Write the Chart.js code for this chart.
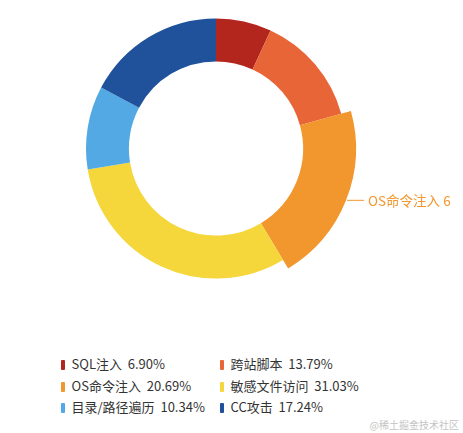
<!DOCTYPE html>
<html>
<head>
<meta charset="utf-8">
<script src="https://cdn.jsdelivr.net/npm/chart.js@4.4.1/dist/chart.umd.min.js"></script>
<style>
  body { margin: 0; background: #fff; width: 463px; height: 433px; position: relative; overflow: hidden;
         font-family: "Noto Sans CJK SC", "Noto Sans", sans-serif; }
  #wrap { position: absolute; left: 0; top: 0; width: 463px; height: 300px; }
  #legend { position: absolute; left: 61px; top: 354px; width: 400px; }
  .item { position: absolute; height: 20px; line-height: 20px; font-size: 13px; color: #333; white-space: pre; }
  .item i { display: inline-block; width: 3.5px; height: 10px; margin-right: 7px; vertical-align: -1px; border-radius: 1px; }
  #mark { position: absolute; right: 4px; top: 417px; font-size: 10px; color: #c4c4c4; }
</style>
</head>
<body>
<div id="wrap"><canvas id="grafico"></canvas></div>
<div id="legend"></div>
<div id="mark">@稀土掘金技术社区</div>
<script>
const categorias = ['SQL注入', '跨站脚本', 'OS命令注入', '敏感文件访问', '目录/路径遍历', 'CC攻击'];
const valores    = [2, 4, 6, 9, 3, 5];
const colores    = ['#b3261e', '#e86538', '#f2972e', '#f5d63b', '#53a9e3', '#1f529b'];
const resaltado  = 2;
const aumento    = 10;

const total = valores.reduce((a, b) => a + b, 0);

// leyenda en dos columnas
const leyenda = document.getElementById('legend');
categorias.forEach((c, i) => {
    const d = document.createElement('div');
    d.className = 'item';
    d.style.left = (i % 2 ? 159 : 0) + 'px';
    d.style.top  = Math.floor(i / 2) * 21.5 + 'px';
    d.innerHTML = '<i style="background:' + colores[i] + '"></i>' + c + '  ' + (valores[i] / total * 100).toFixed(2) + '%';
    leyenda.appendChild(d);
});

// sector resaltado: radio exterior mayor, como en el original
const sectorResaltado = {
    id: 'sectorResaltado',
    afterDatasetsUpdate(chart) {
        const arc = chart.getDatasetMeta(0).data[resaltado];
        arc.outerRadius = arc.outerRadius + aumento;
    },
    afterDatasetsDraw(chart) {
        const arc = chart.getDatasetMeta(0).data[resaltado];
        const ctx = chart.ctx;
        const mid = (arc.startAngle + arc.endAngle) / 2;
        const x = arc.x + Math.cos(mid) * arc.outerRadius;
        const y = arc.y + Math.sin(mid) * arc.outerRadius;
        ctx.save();
        ctx.strokeStyle = colores[resaltado];
        ctx.lineWidth = 1;
        ctx.beginPath(); ctx.moveTo(x + 1, y); ctx.lineTo(x + 18, y); ctx.stroke();
        ctx.fillStyle = colores[resaltado];
        ctx.font = '13.5px "Noto Sans CJK SC", sans-serif';
        ctx.textBaseline = 'middle';
        ctx.fillText(categorias[resaltado] + ' ' + valores[resaltado], x + 22, y + 1);
        ctx.restore();
    }
};

new Chart(document.getElementById('grafico'), {
    type: 'doughnut',
    data: {
        labels: categorias,
        datasets: [{
            data: valores,
            backgroundColor: colores,
            borderWidth: 0
        }]
    },
    options: {
        responsive: true, maintainAspectRatio: false, animation: false,
        cutout: '67%',
        layout: { padding: { top: 18.5, bottom: 21.5, left: 0, right: 31 } },
        plugins: { legend: { display: false }, tooltip: { enabled: false } }
    },
    plugins: [sectorResaltado]
});
</script>
</body>
</html>
